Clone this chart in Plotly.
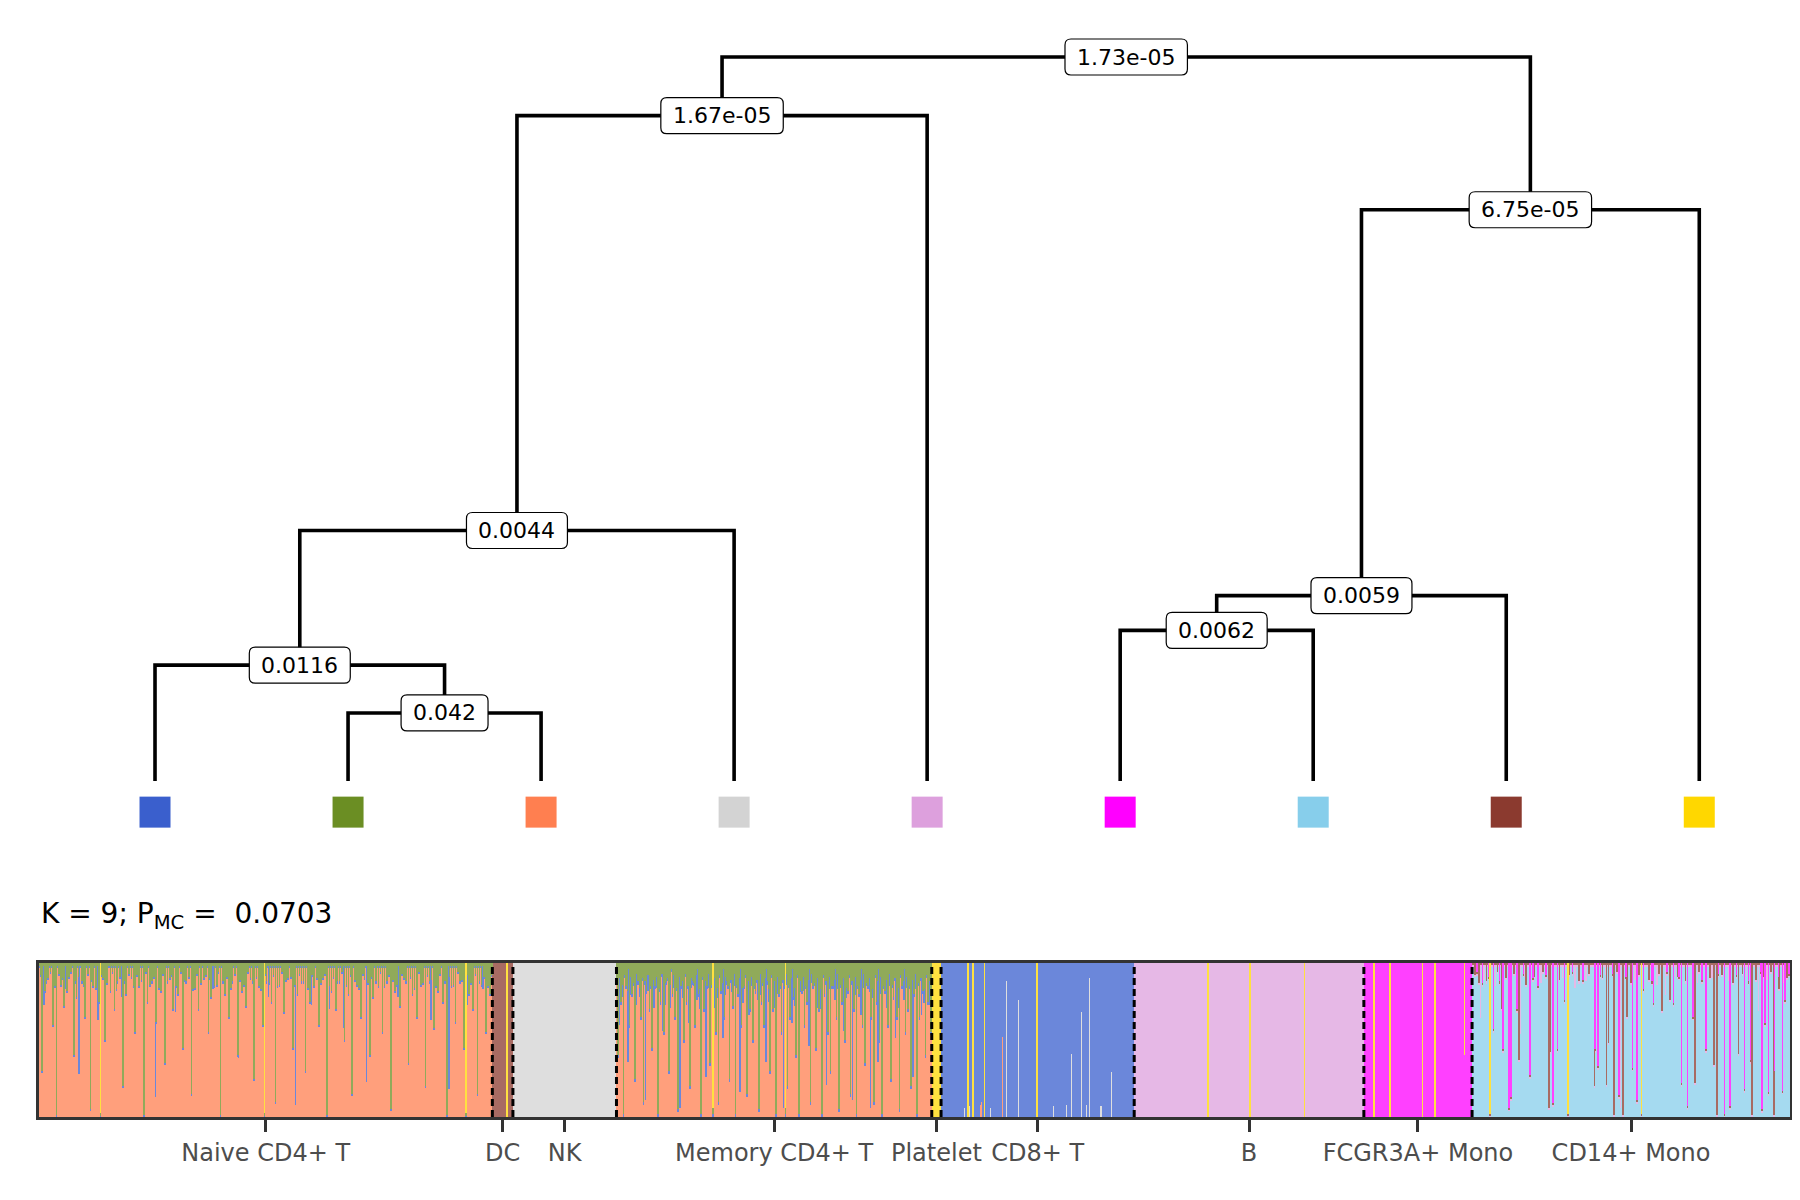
import plotly.graph_objects as go

# ---------------- dendrogram data ----------------
leaf_colors = ["#3A5FCD", "#6B8E23", "#FF7F50", "#D3D3D3", "#DDA0DD",
               "#FF00FF", "#87CEEB", "#8B3A2F", "#FFD700"]
# merges (node ids: leaves 0-8, merged nodes 9..16 in this order)
merge_left = [1, 0, 10, 11, 5, 13, 14, 12]
merge_right = [2, 9, 3, 4, 6, 7, 8, 15]
merge_height = [0.094, 0.160, 0.346, 0.919, 0.208, 0.256, 0.789, 1.000]
merge_pvalue = ["0.042", "0.0116", "0.0044", "1.67e-05", "0.0062", "0.0059", "6.75e-05", "1.73e-05"]

# ---------------- membership (structure plot) data ----------------
groups = ["Naive CD4+ T", "DC", "NK", "Memory CD4+ T", "Platelet",
          "CD8+ T", "B", "FCGR3A+ Mono", "CD14+ Mono"]
group_sizes = [683, 31, 156, 475, 14, 291, 346, 163, 479]
group_cluster = [2, 7, 3, 2, 8, 0, 4, 5, 6]
# background mixture per group (group index, cluster, percent)
base_group = [0, 0, 3, 3, 8, 8]
base_cluster = [1, 0, 1, 0, 7, 4]
base_pct = [2, 1, 4, 2, 1, 1]

# individual cells with visible secondary membership: (cell index, percent)
green_streaks = [
    (4, 70), (9, 18), (13, 10), (21, 40), (26, 100), (33, 14), (37, 28), (45, 9), (52, 60), (56, 22),
    (64, 12), (69, 35), (77, 95), (81, 15), (90, 25), (96, 10), (99, 50), (107, 18), (113, 30), (118, 12),
    (126, 80), (131, 20), (139, 9), (144, 45), (150, 15), (158, 100), (163, 25), (170, 12), (176, 38), (183, 18),
    (189, 65), (197, 10), (201, 30), (209, 20), (216, 55), (221, 12), (229, 85), (235, 16), (240, 30), (248, 10),
    (255, 45), (259, 22), (268, 14), (273, 100), (280, 20), (286, 35), (291, 12), (299, 60), (305, 18), (311, 28),
    (318, 10), (323, 75), (331, 15), (337, 40), (342, 12), (350, 25), (356, 90), (362, 14), (369, 32), (375, 10),
    (382, 55), (389, 20), (395, 12), (401, 70), (408, 25), (414, 15), (421, 40), (427, 10), (433, 100), (440, 18),
    (447, 30), (452, 12), (460, 50), (466, 20), (471, 85), (479, 14), (485, 35), (490, 10), (498, 60), (503, 22),
    (511, 15), (517, 45), (524, 12), (530, 95), (536, 18), (543, 28), (549, 10), (556, 65), (562, 20), (569, 35),
    (575, 14), (582, 80), (588, 12), (595, 42), (601, 18), (608, 25), (614, 100), (621, 15), (627, 38), (634, 12),
    (640, 55), (647, 20), (653, 30), (660, 85), (666, 14), (673, 45), (679, 20),
    (2, 8), (11, 12), (17, 6), (24, 15), (30, 7), (35, 10), (42, 18), (48, 6), (54, 12), (59, 9),
    (67, 14), (73, 7), (79, 11), (85, 16), (93, 8), (102, 13), (110, 6), (116, 17), (122, 9), (129, 12),
    (135, 7), (142, 15), (147, 8), (154, 11), (161, 6), (167, 14), (173, 9), (180, 16), (186, 7), (193, 12),
    (199, 8), (206, 15), (213, 6), (219, 11), (225, 9), (232, 17), (238, 7), (244, 13), (251, 8), (257, 10),
    (264, 15), (270, 6), (277, 12), (283, 9), (289, 16), (295, 7), (302, 11), (308, 14), (314, 6), (321, 12),
    (327, 9), (334, 17), (340, 7), (347, 13), (353, 8), (359, 15), (366, 6), (372, 11), (379, 9), (385, 14),
    (392, 7), (398, 12), (405, 16), (411, 8), (418, 10), (424, 13), (430, 7), (437, 15), (443, 9), (449, 12),
    (456, 6), (463, 14), (469, 8), (476, 11), (482, 16), (488, 7), (495, 13), (501, 9), (507, 12), (514, 6),
    (520, 15), (527, 8), (533, 11), (539, 14), (546, 7), (552, 12), (559, 9), (565, 16), (572, 6), (578, 13),
    (585, 8), (591, 11), (598, 15), (604, 7), (611, 12), (618, 9), (624, 14), (631, 6), (637, 11), (644, 8),
    (650, 13), (657, 7), (663, 12), (670, 9), (676, 15), (682, 8),
    (872, 60), (876, 25), (880, 100), (884, 15), (889, 40), (893, 20), (897, 75), (902, 12), (906, 35), (910, 90),
    (915, 18), (919, 30), (923, 55), (928, 15), (932, 100), (936, 25), (941, 45), (945, 12), (949, 70), (954, 20),
    (958, 35), (962, 95), (967, 15), (971, 50), (975, 25), (980, 80), (984, 12), (988, 40), (993, 20), (997, 100),
    (1001, 30), (1006, 15), (1010, 65), (1014, 22), (1019, 45), (1023, 90), (1027, 18), (1032, 35), (1036, 12), (1040, 75),
    (1045, 28), (1049, 100), (1053, 20), (1058, 40), (1062, 15), (1066, 85), (1071, 30), (1075, 50), (1079, 18), (1084, 95),
    (1088, 25), (1092, 40), (1097, 12), (1101, 70), (1105, 30), (1110, 100), (1114, 20), (1118, 45), (1123, 15), (1127, 80),
    (1131, 35), (1136, 22), (1140, 60), (1144, 100), (1149, 18), (1153, 40), (1157, 25), (1162, 90), (1166, 15), (1170, 55),
    (1175, 30), (1179, 100), (1183, 20), (1188, 45), (1192, 70), (1196, 15), (1201, 35), (1205, 95), (1209, 25), (1214, 50),
    (1218, 18), (1222, 85), (1227, 30), (1231, 100), (1235, 20), (1240, 40), (1244, 65), (1248, 15), (1253, 35), (1257, 90),
    (1261, 25), (1266, 50), (1270, 100), (1274, 18), (1279, 40), (1283, 75), (1287, 22), (1292, 35), (1296, 95), (1300, 15),
    (1305, 45), (1309, 30), (1313, 80), (1318, 20), (1322, 100), (1326, 35), (1331, 18), (1335, 60), (1339, 25), (1343, 45),
    (870, 12), (874, 10), (878, 14), (882, 8), (886, 18), (891, 9), (895, 13), (899, 7), (904, 16), (908, 10),
    (912, 12), (917, 8), (921, 15), (925, 11), (930, 9), (934, 17), (938, 7), (943, 13), (947, 10), (951, 14),
    (956, 8), (960, 16), (964, 9), (969, 12), (973, 7), (977, 15), (982, 10), (986, 13), (990, 8), (995, 17),
    (999, 9), (1003, 12), (1008, 7), (1012, 14), (1016, 10), (1021, 16), (1025, 8), (1029, 13), (1034, 9), (1038, 15),
    (1042, 11), (1047, 7), (1051, 14), (1055, 10), (1060, 16), (1064, 8), (1068, 12), (1073, 9), (1077, 15), (1081, 11),
    (1086, 7), (1090, 13), (1094, 10), (1099, 17), (1103, 8), (1107, 12), (1112, 9), (1116, 15), (1120, 11), (1125, 7),
    (1129, 14), (1133, 10), (1138, 16), (1142, 8), (1146, 12), (1151, 9), (1155, 15), (1159, 11), (1164, 7), (1168, 13),
    (1172, 10), (1177, 17), (1181, 8), (1185, 12), (1190, 9), (1194, 15), (1198, 11), (1203, 7), (1207, 14), (1211, 10),
    (1216, 16), (1220, 8), (1224, 12), (1229, 9), (1233, 15), (1237, 11), (1242, 7), (1246, 13), (1250, 10), (1255, 17),
    (1259, 8), (1263, 12), (1268, 9), (1272, 15), (1276, 11), (1281, 7), (1285, 14), (1289, 10), (1294, 16), (1298, 8),
    (1302, 12), (1307, 9), (1311, 15), (1315, 11), (1320, 7), (1324, 13), (1328, 10), (1333, 17), (1337, 8), (1341, 12),
]
blue_streaks = [
    (7, 25), (40, 15), (60, 70), (88, 35), (124, 20), (175, 85), (205, 30), (262, 15), (300, 60), (345, 20),
    (386, 90), (410, 25), (437, 15), (458, 40), (493, 75), (540, 20), (590, 35), (617, 80), (645, 25), (668, 15),
    (874, 30), (887, 60), (899, 20), (913, 85), (926, 25), (939, 40), (951, 15), (965, 90), (978, 35), (991, 20),
    (1004, 70), (1017, 25), (1030, 45), (1043, 15), (1056, 80), (1069, 30), (1082, 20), (1095, 60), (1108, 25), (1121, 90),
    (1134, 35), (1147, 15), (1160, 50), (1173, 25), (1186, 75), (1199, 20), (1212, 40), (1225, 85), (1238, 30), (1251, 15),
    (1252, 90), (1264, 60), (1277, 25), (1290, 45), (1303, 20), (1316, 70), (1329, 30), (1341, 15),
    (878, 8), (891, 12), (904, 6), (917, 10), (930, 7), (943, 14), (956, 8), (969, 11), (982, 6), (995, 13),
    (1008, 9), (1021, 7), (1034, 12), (1047, 8), (1060, 10), (1073, 6), (1086, 14), (1099, 8), (1112, 11), (1125, 7),
    (1138, 12), (1151, 9), (1164, 6), (1177, 13), (1190, 8), (1203, 10), (1216, 7), (1229, 12), (1242, 9), (1255, 6),
    (1268, 11), (1281, 8), (1294, 13), (1307, 7), (1320, 10), (1333, 9),
]
gray_streaks = [
    (1374, 60), (1376, 90), (1394, 6), (1401, 7), (1418, 8), (1433, 6), (1443, 83), (1446, 54), (1448, 10),
    (1457, 88), (1469, 88), (1471, 8), (1475, 76), (1488, 19), (1497, 8), (1506, 10), (1518, 6), (1528, 7),
    (1544, 100), (1547, 8), (1555, 41), (1565, 26), (1567, 26), (1570, 68), (1578, 8), (1582, 90), (1588, 100),
    (1592, 88), (1599, 7), (1600, 72), (1609, 8), (1612, 32), (1615, 29), (1624, 7), (1626, 78), (1647, 9),
]
coral_streaks = [(1419, 10), (1451, 52)]
magenta_streaks = [
    (2174, 13), (2191, 43), (2205, 56), (2214, 94), (2217, 87), (2226, 30), (2246, 73), (2258, 15), (2280, 91),
    (2287, 56), (2298, 24), (2344, 56), (2348, 67), (2380, 86), (2400, 68), (2407, 89), (2417, 17), (2432, 26),
    (2462, 26), (2474, 78), (2483, 93), (2491, 35), (2511, 56), (2539, 98), (2547, 93), (2569, 82), (2578, 63),
    (2595, 95), (2600, 39), (2605, 84), (2614, 70), (2626, 83), (2630, 24),
    (2166, 6), (2184, 9), (2200, 12), (2236, 7), (2250, 10), (2270, 8), (2310, 6), (2326, 11), (2352, 8),
    (2370, 7), (2390, 9), (2430, 12), (2452, 6), (2470, 9), (2505, 11), (2530, 7), (2557, 8), (2575, 12),
    (2593, 6), (2620, 9), (2636, 7),
]
brown_streaks = [
    (2169, 13), (2203, 30), (2229, 63), (2274, 94), (2276, 58), (2343, 80), (2361, 79), (2364, 52), (2372, 99),
    (2386, 99), (2392, 35), (2445, 31), (2457, 24), (2494, 78), (2523, 66), (2528, 99), (2560, 59), (2580, 99),
    (2613, 99), (2621, 17),
    (2163, 8), (2180, 12), (2197, 6), (2210, 10), (2222, 7), (2240, 14), (2252, 9), (2265, 6), (2290, 11),
    (2305, 8), (2320, 12), (2335, 7), (2355, 10), (2377, 6), (2398, 13), (2410, 8), (2425, 11), (2440, 7),
    (2468, 9), (2480, 12), (2500, 6), (2517, 10), (2535, 8), (2552, 13), (2566, 7), (2586, 11), (2598, 9),
    (2609, 6), (2633, 10),
]
plum_streaks = [
    (2171, 35), (2231, 45), (2314, 15), (2382, 93), (2450, 20), (2590, 30),
    (2176, 10), (2194, 14), (2238, 8), (2262, 12), (2295, 9), (2330, 11), (2360, 7), (2404, 10),
    (2437, 13), (2465, 8), (2498, 12), (2520, 9), (2545, 11), (2572, 8), (2603, 10), (2628, 12),
]
gold_streaks = [
    (92, 100), (339, 100), (643, 100), (705, 100), (1015, 100), (1124, 100),
    (1399, 100), (1407, 100), (1424, 100), (1503, 100),
    (1761, 100), (1824, 100), (1906, 100),
    (2011, 100), (2035, 100), (2084, 100), (2103, 100), (2147, 60),
    (2186, 100), (2303, 100), (2414, 100),
]
streaks_by_cluster = {1: green_streaks, 0: blue_streaks, 3: gray_streaks, 2: coral_streaks,
                      5: magenta_streaks, 7: brown_streaks, 4: plum_streaks, 8: gold_streaks}
stack_order = [3, 2, 6, 4, 0, 7, 5, 1, 8]  # bottom -> top

# ---------------- build membership matrix ----------------
K = len(leaf_colors)
N = sum(group_sizes)
cell_group = []
for g, n in enumerate(group_sizes):
    cell_group += [g] * n
frac = [[0.0] * K for _ in range(N)]
for i in range(N):
    g = cell_group[i]
    for bg, bc, bp in zip(base_group, base_cluster, base_pct):
        if bg == g:
            frac[i][bc] = bp / 100.0
for c, lst in streaks_by_cluster.items():
    for cell, p in lst:
        frac[cell][c] = p / 100.0
for i in range(N):
    dom = group_cluster[cell_group[i]]
    others = sum(frac[i][c] for c in range(K) if c != dom)
    if others > 1:
        for c in range(K):
            if c != dom:
                frac[i][c] /= others
        others = 1.0
    frac[i][dom] = 1.0 - others

# run-length merge identical consecutive cells
runs = []  # [start, length, fractions]
for i in range(N):
    key = tuple(round(v, 4) for v in frac[i])
    if runs and runs[-1][2] == key and cell_group[i] == cell_group[runs[-1][0]]:
        runs[-1][1] += 1
    else:
        runs.append([i, 1, key])


def blend(hexc, a=0.75):
    h = hexc.lstrip('#')
    r, g, b = int(h[0:2], 16), int(h[2:4], 16), int(h[4:6], 16)
    return "rgb({},{},{})".format(round(r * a + 255 * (1 - a)), round(g * a + 255 * (1 - a)),
                                   round(b * a + 255 * (1 - a)))


fig = go.Figure()

# ---------------- structure plot bars ----------------
run_x = [r[0] + r[1] / 2.0 for r in runs]
run_w = [r[1] for r in runs]
for c in stack_order:
    fig.add_trace(go.Bar(
        x=run_x, y=[r[2][c] for r in runs], width=run_w,
        marker=dict(color=blend(leaf_colors[c]), line=dict(width=0)),
        xaxis="x2", yaxis="y2", hoverinfo="skip", showlegend=False))

# ---------------- dendrogram ----------------
node_x = list(range(K))
node_h = [0.0] * K
lx, ly = [], []
for a, b, h in zip(merge_left, merge_right, merge_height):
    xa, xb = node_x[a], node_x[b]
    lx += [xa, xa, xb, xb, None]
    ly += [node_h[a], h, h, node_h[b], None]
    node_x.append((xa + xb) / 2.0)
    node_h.append(h)

fig.add_trace(go.Scatter(x=lx, y=ly, mode="lines", line=dict(color="black", width=3.6),
                         hoverinfo="skip", showlegend=False, xaxis="x", yaxis="y"))
fig.add_trace(go.Scatter(x=list(range(K)), y=[-0.043] * K, mode="markers",
                         marker=dict(symbol="square", size=31, color=leaf_colors, line=dict(width=0)),
                         hoverinfo="skip", showlegend=False, xaxis="x", yaxis="y"))

# axis geometry (data units per pixel) for the rounded label boxes
X_RANGE = [-0.601, 8.47]
Y_RANGE = [-0.0953, 1.0373]
PLOT_W = 1751.0
DENDRO_H = 820.0
px_x = (X_RANGE[1] - X_RANGE[0]) / PLOT_W
px_y = (Y_RANGE[1] - Y_RANGE[0]) / DENDRO_H
char_w = {".": 0.318, "e": 0.615, "-": 0.361}
LABEL_FONT = 22

shapes = []
annotations = []
for k, p in enumerate(merge_pvalue):
    cx, cy = node_x[K + k], node_h[K + k]
    tw = sum(char_w.get(ch, 0.636) for ch in p) * LABEL_FONT
    w = (tw + 24) / 2.0 * px_x
    h = 36 / 2.0 * px_y
    rx, ry = 6 * px_x, 6 * px_y
    path = ("M {a},{b} L {c},{b} Q {d},{b} {d},{e} L {d},{f} Q {d},{g} {c},{g} "
            "L {a},{g} Q {i},{g} {i},{f} L {i},{e} Q {i},{b} {a},{b} Z").format(
        a=cx - w + rx, b=cy - h, c=cx + w - rx, d=cx + w, e=cy - h + ry,
        f=cy + h - ry, g=cy + h, i=cx - w)
    shapes.append(dict(type="path", xref="x", yref="y", path=path, fillcolor="white",
                       line=dict(color="black", width=1.2), layer="above"))
    annotations.append(dict(x=cx, y=cy, xref="x", yref="y", text=p, showarrow=False,
                            font=dict(family="DejaVu Sans", size=LABEL_FONT, color="black"),
                            xanchor="center", yanchor="middle"))
annotations.append(dict(x=0, y=1 - 907 / 1200, xref="paper", yref="paper",
                        text="K = 9; P<sub>MC</sub> =  0.0703", showarrow=False,
                        font=dict(family="DejaVu Sans", size=28, color="black"),
                        xanchor="left", yanchor="middle"))

# dashed boundaries between groups
bounds = []
acc = 0
for n in group_sizes[:-1]:
    acc += n
    bounds.append(acc)
for b in bounds:
    shapes.append(dict(type="line", xref="x2", yref="y2", x0=b, x1=b, y0=0, y1=1,
                       line=dict(color="black", width=3, dash="7px,4px"), layer="above"))

centers = []
acc = 0
for n in group_sizes:
    centers.append(acc + n / 2.0)
    acc += n

fig.update_layout(
    width=1800, height=1200,
    margin=dict(l=31, r=18, t=0, b=0),
    paper_bgcolor="white", plot_bgcolor="white",
    barmode="stack", bargap=0,
    hovermode=False,
    font=dict(family="DejaVu Sans"),
    xaxis=dict(domain=[0, 1], range=X_RANGE, visible=False),
    yaxis=dict(domain=[1 - 842 / 1200, 1 - 22 / 1200], range=Y_RANGE, visible=False),
    xaxis2=dict(domain=[0, 1], range=[0, N], anchor="y2",
                tickmode="array", tickvals=centers, ticktext=groups,
                ticks="outside", ticklen=12, tickwidth=3, tickcolor="#333333",
                tickfont=dict(family="DejaVu Sans", size=24, color="#4d4d4d"),
                showline=True, linecolor="#333333", linewidth=2.5, mirror=True,
                showgrid=False, zeroline=False),
    yaxis2=dict(domain=[1 - 1109 / 1200, 1 - 955 / 1200], range=[0, 1], anchor="x2",
                showticklabels=False, ticks="", showline=True, linecolor="#333333",
                linewidth=2.5, mirror=True, showgrid=False, zeroline=False),
    annotations=annotations,
    shapes=shapes,
)

fig.write_html("out.html")
